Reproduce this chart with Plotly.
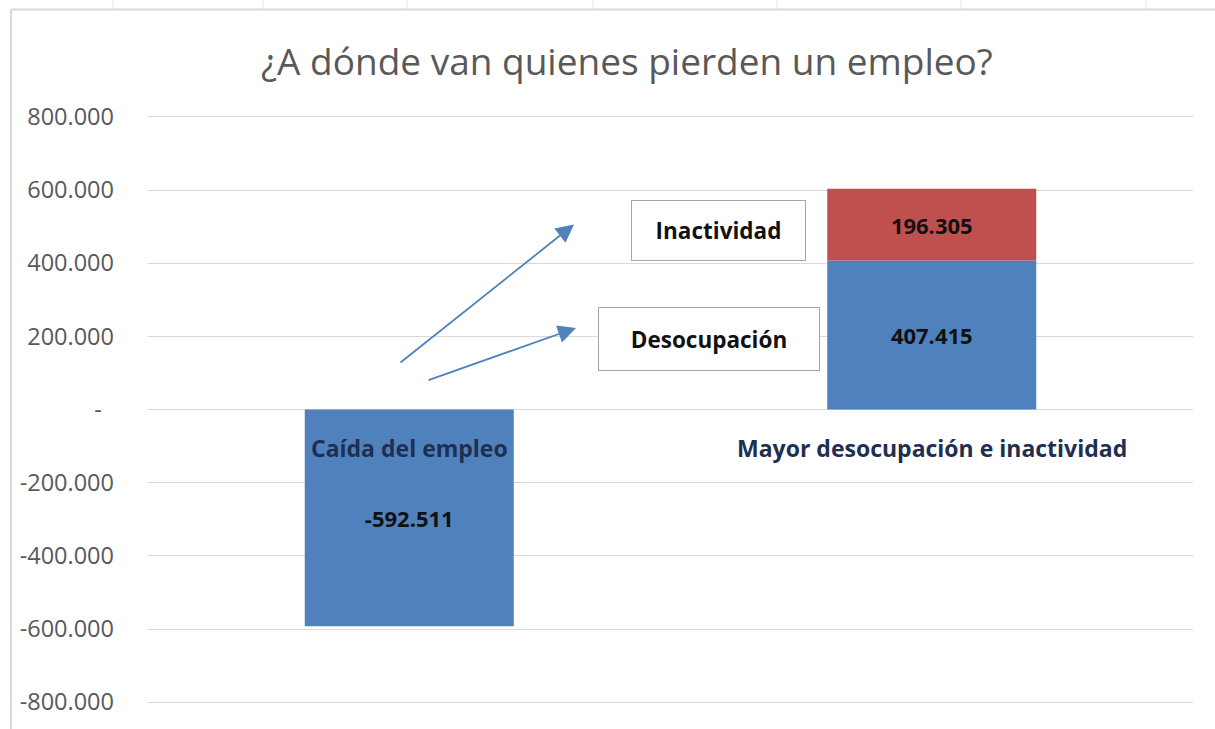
import plotly.graph_objects as go

# ---- data ----
categories = ["Caída del empleo", "Mayor desocupación e inactividad"]
caida = [-592511, None]
desocupacion = [None, 407415]
inactividad = [None, 196305]
tick_vals = [-800000, -600000, -400000, -200000, 0, 200000, 400000, 600000, 800000]
tick_text = ["-800.000", "-600.000", "-400.000", "-200.000", "-  ", "200.000", "400.000", "600.000", "800.000"]


def fmt(v):
    return "" if v is None else f"{v:,}".replace(",", ".")


BLUE = "#4F81BD"
RED = "#C0504D"
FONT = "Open Sans"
lab_font = dict(family=FONT, size=22.5, color="#111111")

fig = go.Figure()
for name, vals, col in [("Caída", caida, BLUE), ("Desocupación", desocupacion, BLUE), ("Inactividad", inactividad, RED)]:
    fig.add_trace(go.Bar(
        x=categories, y=vals, name=name, marker=dict(color=col, line=dict(width=0)),
        text=[fmt(v) for v in vals], textposition="inside", insidetextanchor="middle",
        textangle=0, textfont=dict(family=FONT, size=22, color="#111111", weight="bold"),
        cliponaxis=False, showlegend=False,
    ))

annotations = []
# category labels just below zero line
for c in categories:
    annotations.append(dict(x=c, y=0, xref="x", yref="y", text="<b>%s</b>" % c, showarrow=False,
                            yshift=-38, font=dict(family=FONT, size=23, color="#1F2F50")))

# label boxes
annotations.append(dict(x=0.591, y=488000, xref="x", yref="y", text="<b>Inactividad</b>", showarrow=False,
                        width=173, height=59, bgcolor="white", bordercolor="#A6A6A6", borderwidth=1,
                        borderpad=0, font=lab_font))
annotations.append(dict(x=0.574, y=193000, xref="x", yref="y", text="<b>Desocupación</b>", showarrow=False,
                        width=220, height=62, bgcolor="white", bordercolor="#A6A6A6", borderwidth=1,
                        borderpad=0, font=lab_font))
# arrows
for hx, hy, tx, ty in [(0.3153, 506000, -0.0196, 125000), (0.3191, 223000, 0.034, 79000)]:
    annotations.append(dict(x=hx, y=hy, ax=tx, ay=ty, xref="x", yref="y", axref="x", ayref="y",
                            text="", showarrow=True, arrowhead=2, arrowsize=2.0, arrowwidth=1.8,
                            arrowcolor=BLUE, standoff=0, startstandoff=0))

# plot area geometry (pixels) used for frame decoration
L, T, B = 148, 115, 22
PW, PH = 1215 - L - 22, 729 - T - B


def px_x(p):
    return (p - L) / PW


def px_y(p):
    return (729 - B - p) / PH


shapes = []
shapes.append(dict(type="line", xref="paper", yref="paper", x0=px_x(11), x1=px_x(11), y0=px_y(9), y1=px_y(740),
                   line=dict(color="#D9D9D9", width=2)))
shapes.append(dict(type="line", xref="paper", yref="paper", x0=px_x(11), x1=px_x(1215), y0=px_y(9), y1=px_y(9),
                   line=dict(color="#D9D9D9", width=2)))
for p in [113, 263, 407, 593, 777, 961, 1146]:
    shapes.append(dict(type="line", xref="paper", yref="paper", x0=px_x(p), x1=px_x(p), y0=px_y(9), y1=px_y(-1),
                       line=dict(color="#E3E3E3", width=1)))

fig.update_layout(
    width=1215, height=729,
    margin=dict(l=L, r=22, t=T, b=B),
    paper_bgcolor="white", plot_bgcolor="white",
    barmode="relative", bargap=0.6,
    title=dict(text="¿A dónde van quienes pierden un empleo?", x=0.516, xanchor="center",
               y=1 - 62 / 729, yanchor="middle", font=dict(family=FONT, size=37, color="#595959")),
    xaxis=dict(showticklabels=False, showgrid=False, zeroline=False, showline=False, ticks=""),
    yaxis=dict(range=[-805000, 805000], tickvals=tick_vals, ticktext=tick_text,
               showgrid=True, gridcolor="#D9D9D9", gridwidth=1, zeroline=True, zerolinecolor="#D9D9D9",
               zerolinewidth=1, showline=False, ticks="", ticklabelstandoff=33,
               tickfont=dict(family=FONT, size=23.5, color="#595959")),
    annotations=annotations, shapes=shapes,
    font=dict(family=FONT),
)

fig.write_html("out.html", config={"displayModeBar": False},
               post_script="document.body.style.margin='0';document.body.style.overflow='hidden';")
